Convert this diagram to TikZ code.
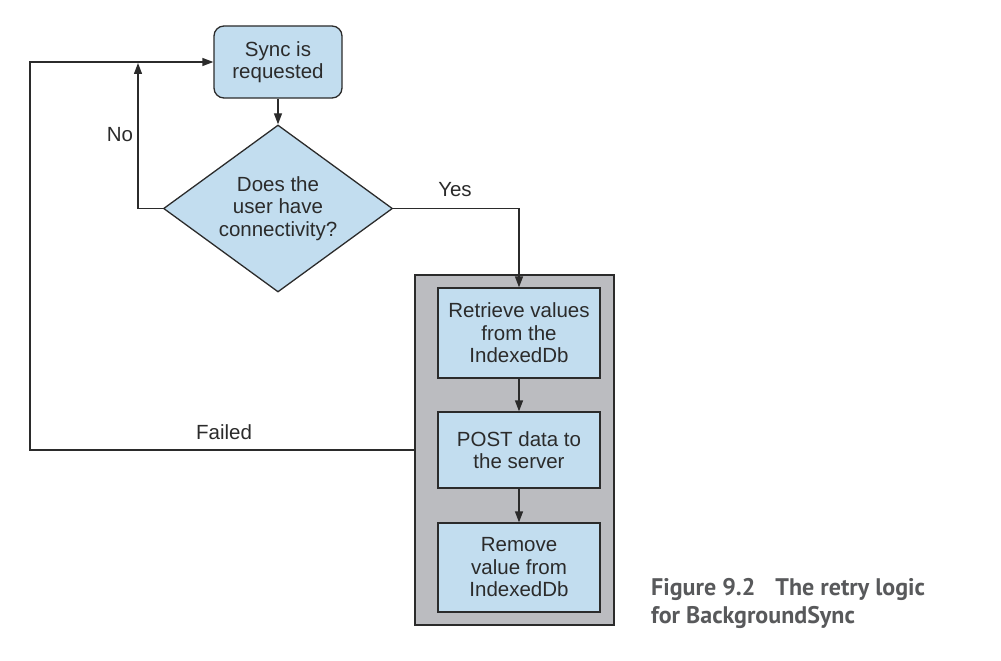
\documentclass[tikz,border=0pt]{standalone}
\usepackage{fontspec}
\newfontfamily\bodyfont{Liberation Sans}
\newfontfamily\capfont{PT Sans}
\usetikzlibrary{shapes.geometric,arrows.meta,positioning}
\definecolor{boxblue}{HTML}{C2DDEF}
\definecolor{groupgrey}{HTML}{BBBCC0}
\definecolor{linedark}{HTML}{2B2B2B}
\definecolor{capgrey}{HTML}{58595B}
\tikzset{
  every node/.style={font=\bodyfont\fontsize{20.5}{22.5}\selectfont, text=linedark},
  bluebox/.style={draw=linedark, line width=1.3pt, fill=boxblue, align=center,
    minimum width=162pt, inner sep=0pt},
  arr/.style={draw=linedark, line width=1.3pt,
    -{Triangle[length=11pt,width=8pt]}},
  lbl/.style={font=\bodyfont\fontsize{20.5}{22.5}\selectfont},
  captext/.style={font=\capfont\bfseries\fontsize{24}{29}\selectfont, text=capgrey, anchor=base west, inner sep=0pt}
}
\begin{document}
\begin{tikzpicture}[x=1pt,y=-1pt]
\useasboundingbox (0,0) rectangle (1001,661);
% group container
\node[draw=linedark, line width=1.3pt, fill=groupgrey, minimum width=199pt, minimum height=350pt, inner sep=0pt] (grp) at (514.5,450) {};
% nodes
\node[bluebox, rounded corners=10pt, minimum width=128pt, minimum height=72pt] (sync) at (278,62) {Sync is\\requested};
\node[draw=linedark, line width=1.3pt, fill=boxblue, diamond, aspect=1.371, minimum width=229pt, minimum height=167pt, inner sep=0pt, align=center] (dia) at (278,208.5) {Does the\\user have\\connectivity?};
\node[bluebox, minimum height=90pt] (ret) at (519,333) {Retrieve values\\from the\\IndexedDb};
\node[bluebox, minimum height=76pt] (post) at (519,450) {POST data to\\the server};
\node[bluebox, minimum height=89pt] (rem) at (519,567.5) {Remove\\value from\\IndexedDb};
% helper coordinates
\coordinate (noTop) at (138,63);
\coordinate (loopCorner) at (30,62);
% connectors
\draw[arr] (sync) -- (dia);
\draw[arr] (dia.east) -| (ret.north);
\draw[arr] (dia.west) -| (noTop);
\draw[arr] (grp.west) -| (loopCorner) -- (sync.west);
\draw[arr] (ret) -- (post);
\draw[arr] (post) -- (rem);
% labels
\node[lbl] (nolbl) at (120,135) {No};
\node[lbl] (yeslbl) at (455,190) {Yes};
\node[lbl] (faillbl) at (224,432) {Failed};
% caption
\node[captext] (cap1) at (651,595) {Figure 9.2\hspace{20pt}The retry logic};
\node[captext] (cap2) at (651,623) {for BackgroundSync};
\end{tikzpicture}
\end{document}
